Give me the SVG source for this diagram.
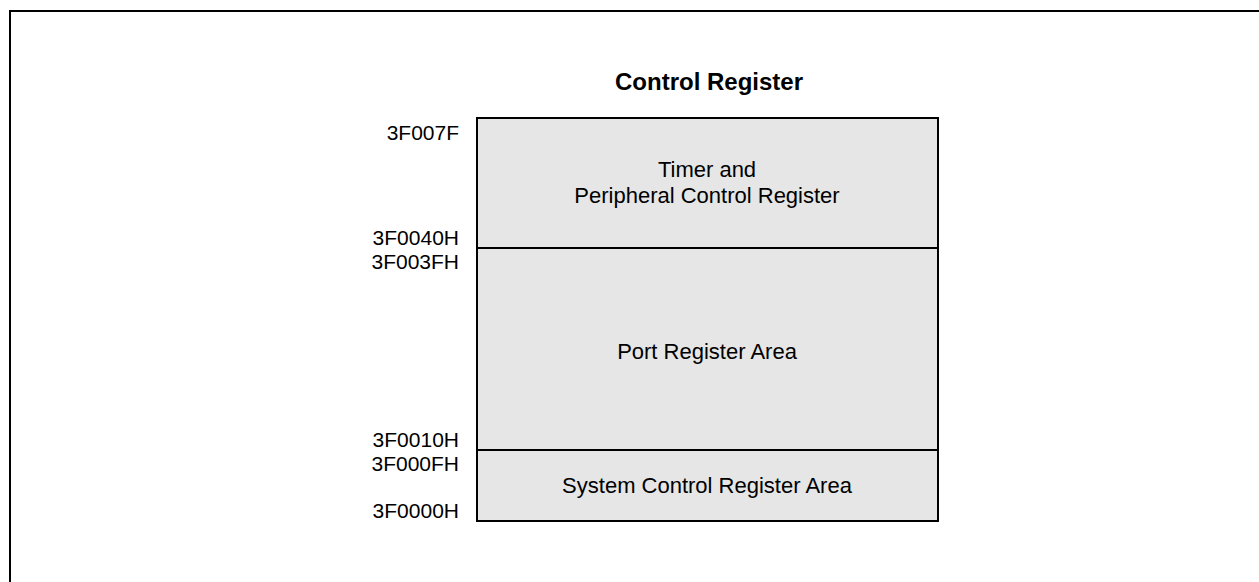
<svg xmlns="http://www.w3.org/2000/svg" width="1259" height="582" viewBox="0 0 1259 582">
<style>
.t{font-family:"Liberation Sans",Arial,sans-serif;font-size:22px;fill:#000}
.c{text-anchor:middle}
.r{text-anchor:end;font-size:21px}
.b{font-weight:bold;font-size:24px}
.box{fill:#e6e6e6;stroke:#000;stroke-width:2}
</style>
<rect width="1259" height="582" fill="#fff"/>
<g id="frame"><path d="M10 582 V11 H1259" fill="none" stroke="#000" stroke-width="2"/></g>
<g id="title"><text class="t c b" x="709" y="90">Control Register</text></g>
<g id="timer">
<rect class="box" x="477" y="118" width="461" height="130"/>
<text class="t c" x="707" y="177">Timer and</text>
<text class="t c" x="707" y="203">Peripheral Control Register</text>
</g>
<g id="port">
<rect class="box" x="477" y="248" width="461" height="202"/>
<text class="t c" x="707" y="359">Port Register Area</text>
</g>
<g id="system">
<rect class="box" x="477" y="450" width="461" height="71"/>
<text class="t c" x="707" y="493">System Control Register Area</text>
</g>
<g id="labels">
<text class="t r" x="459" y="140">3F007F</text>
<text class="t r" x="459" y="245">3F0040H</text>
<text class="t r" x="459" y="269">3F003FH</text>
<text class="t r" x="459" y="447">3F0010H</text>
<text class="t r" x="459" y="471">3F000FH</text>
<text class="t r" x="459" y="518">3F0000H</text>
</g>
<g id="connectors"/>
</svg>
